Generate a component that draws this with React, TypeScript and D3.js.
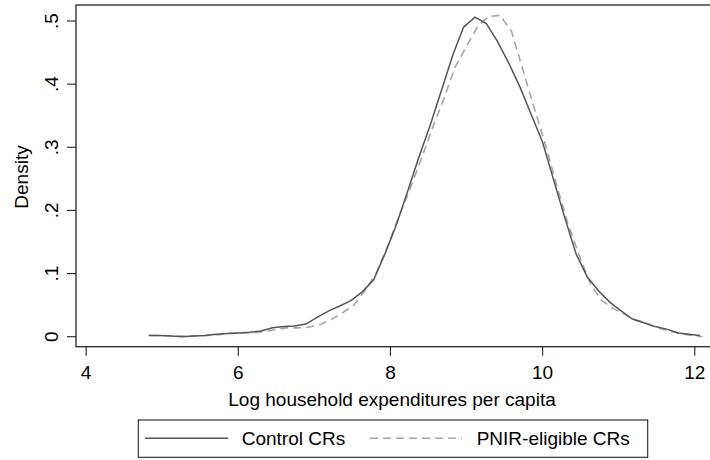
import React from "react";
import * as d3 from "d3";

const controlX = [4.82, 4.97, 5.12, 5.26, 5.41, 5.56, 5.71, 5.86, 6.0, 6.15, 6.3, 6.45, 6.6, 6.74, 6.89, 7.04, 7.19, 7.34, 7.48, 7.63, 7.78, 7.93, 8.08, 8.22, 8.37, 8.52, 8.67, 8.82, 8.96, 9.11, 9.26, 9.41, 9.56, 9.7, 9.85, 10.0, 10.15, 10.3, 10.44, 10.59, 10.74, 10.89, 11.04, 11.18, 11.33, 11.48, 11.63, 11.78, 11.92, 12.07];
const controlY = [0.002, 0.002, 0.001, 0.0, 0.001, 0.002, 0.004, 0.005, 0.006, 0.007, 0.009, 0.014, 0.016, 0.017, 0.02, 0.031, 0.041, 0.049, 0.057, 0.071, 0.09, 0.132, 0.178, 0.228, 0.283, 0.334, 0.39, 0.446, 0.49, 0.506, 0.496, 0.467, 0.432, 0.396, 0.352, 0.308, 0.246, 0.185, 0.131, 0.094, 0.072, 0.054, 0.04, 0.028, 0.022, 0.016, 0.012, 0.006, 0.004, 0.002];

const pnirX = [4.85, 5.0, 5.15, 5.29, 5.44, 5.59, 5.74, 5.89, 6.03, 6.18, 6.33, 6.48, 6.63, 6.78, 6.92, 7.07, 7.22, 7.37, 7.52, 7.66, 7.81, 7.96, 8.11, 8.26, 8.41, 8.55, 8.7, 8.85, 9.0, 9.15, 9.29, 9.44, 9.59, 9.74, 9.89, 10.03, 10.18, 10.33, 10.48, 10.63, 10.77, 10.92, 11.07, 11.22, 11.37, 11.51, 11.66, 11.81, 11.96, 12.1];
const pnirY = [0.002, 0.002, 0.001, 0.001, 0.001, 0.002, 0.003, 0.005, 0.006, 0.006, 0.008, 0.011, 0.014, 0.014, 0.015, 0.019, 0.027, 0.038, 0.05, 0.072, 0.1, 0.142, 0.19, 0.235, 0.283, 0.33, 0.376, 0.427, 0.46, 0.492, 0.507, 0.509, 0.484, 0.423, 0.362, 0.307, 0.242, 0.18, 0.129, 0.083, 0.058, 0.045, 0.036, 0.027, 0.021, 0.014, 0.009, 0.005, 0.002, 0.0];

const xTicks = [4, 6, 8, 10, 12];
const yTicks = [0, 0.1, 0.2, 0.3, 0.4, 0.5];
const yTickLabels = ["0", ".1", ".2", ".3", ".4", ".5"];
const seriesNames = ["Control CRs", "PNIR-eligible CRs"];
const xTitle = "Log household expenditures per capita";
const yTitle = "Density";

const W = 710;
const H = 460;
const FONT = "'Liberation Sans', Arial, Helvetica, sans-serif";
const FS = 19;

export default function App() {
  const left = 76;
  const top = 5;
  const bottom = 346.7;
  const right = 714;
  const x = d3.scaleLinear().domain([4, 12]).range([86.1, 694.8]);
  const y = d3.scaleLinear().domain([0, 0.5]).range([336.7, 21]);

  const line = d3
    .line<[number, number]>()
    .x((d) => x(d[0]))
    .y((d) => y(d[1]));

  const control = controlX.map((v, i) => [v, controlY[i]] as [number, number]);
  const pnir = pnirX.map((v, i) => [v, pnirY[i]] as [number, number]);

  const axisColor = "#222";
  const solidColor = "#555";
  const dashColor = "#a6a6a6";

  return (
    <svg
      width={W}
      height={H}
      style={{ position: "absolute", left: 0, top: 0, background: "#fff" }}
      fontFamily={FONT}
    >
      <rect x={0} y={0} width={W} height={H} fill="#fff" />
      {/* plot frame */}
      <rect
        x={left}
        y={top}
        width={right - left}
        height={bottom - top}
        fill="none"
        stroke={axisColor}
        strokeWidth={1.3}
      />
      {/* curves */}
      <path d={line(pnir) || ""} fill="none" stroke={dashColor} strokeWidth={1.6} strokeDasharray="8,5" />
      <path d={line(control) || ""} fill="none" stroke={solidColor} strokeWidth={1.5} />

      {/* y axis ticks */}
      {yTicks.map((t, i) => (
        <g key={"y" + i}>
          <line x1={left - 9} x2={left} y1={y(t)} y2={y(t)} stroke={axisColor} strokeWidth={1.1} />
          <text
            transform={`translate(${58},${y(t)}) rotate(-90)`}
            textAnchor="middle"
            fontSize={FS}
            fill="#000"
          >
            {yTickLabels[i]}
          </text>
        </g>
      ))}
      <text
        transform={`translate(${28},${177}) rotate(-90)`}
        textAnchor="middle"
        fontSize={FS}
        fill="#000"
      >
        {yTitle}
      </text>

      {/* x axis ticks */}
      {xTicks.map((t, i) => (
        <g key={"x" + i}>
          <line x1={x(t)} x2={x(t)} y1={bottom} y2={bottom + 9} stroke={axisColor} strokeWidth={1.1} />
          <text x={x(t)} y={378.5} textAnchor="middle" fontSize={FS} fill="#000">
            {String(t)}
          </text>
        </g>
      ))}
      <text x={392} y={405.7} textAnchor="middle" fontSize={FS} fill="#000">
        {xTitle}
      </text>

      {/* legend */}
      <rect x={138.3} y={420} width={509.4} height={37.3} fill="#fff" stroke={axisColor} strokeWidth={1.1} />
      <line x1={145} x2={228} y1={438.3} y2={438.3} stroke={solidColor} strokeWidth={1.5} />
      <text x={241.7} y={445} fontSize={FS} fill="#000">
        {seriesNames[0]}
      </text>
      <line x1={370} x2={462} y1={438.3} y2={438.3} stroke={dashColor} strokeWidth={1.6} strokeDasharray="8,5" />
      <text x={476.7} y={445} fontSize={FS} fill="#000">
        {seriesNames[1]}
      </text>
    </svg>
  );
}
